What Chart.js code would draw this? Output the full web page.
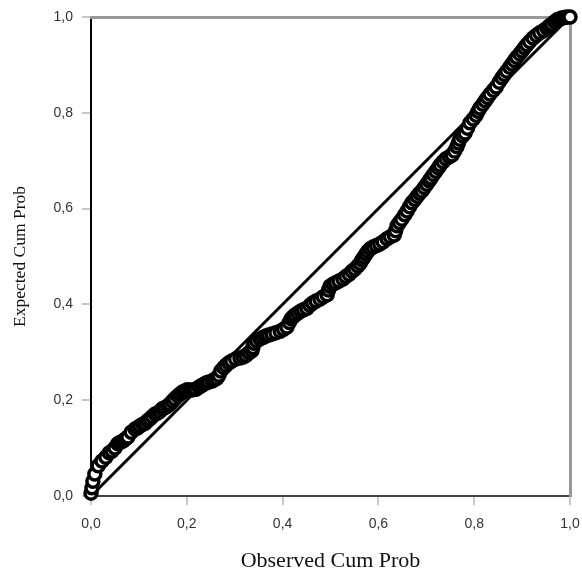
<!DOCTYPE html>
<html>
<head>
<meta charset="utf-8">
<script src="https://cdn.jsdelivr.net/npm/chart.js@4.4.1/dist/chart.umd.min.js"></script>
<style>
  html, body { margin: 0; padding: 0; background: #fff; }
  #wrap { width: 582px; height: 574px; }
</style>
</head>
<body>
<div id="wrap"><canvas id="ppChart" width="582" height="574"></canvas></div>
<script>
// observed vs expected cumulative probability
const observed = [
  0.000, 0.002, 0.004, 0.008, 0.015, 0.023, 0.031, 0.044, 0.056, 0.067,
  0.077, 0.092, 0.102, 0.113, 0.123, 0.134, 0.144, 0.154, 0.165, 0.175,
  0.186, 0.196, 0.207, 0.219, 0.230, 0.240, 0.253, 0.263, 0.271, 0.282,
  0.294, 0.311, 0.324, 0.336, 0.340, 0.353, 0.365, 0.378, 0.395, 0.409,
  0.418, 0.426, 0.438, 0.451, 0.463, 0.478, 0.493, 0.499, 0.511, 0.526,
  0.539, 0.551, 0.562, 0.570, 0.578, 0.589, 0.603, 0.618, 0.633, 0.639,
  0.649, 0.660, 0.670, 0.681, 0.691, 0.701, 0.710, 0.720, 0.729, 0.741,
  0.754, 0.764, 0.770, 0.781, 0.791, 0.804, 0.812, 0.823, 0.833, 0.846,
  0.858, 0.868, 0.879, 0.889, 0.900, 0.910, 0.923, 0.937, 0.952, 0.962,
  0.973, 0.983, 0.994
];
const expected = [
  0.006, 0.017, 0.031, 0.046, 0.063, 0.073, 0.081, 0.094, 0.109, 0.115,
  0.123, 0.140, 0.146, 0.152, 0.161, 0.171, 0.177, 0.184, 0.192, 0.203,
  0.213, 0.219, 0.221, 0.223, 0.230, 0.236, 0.240, 0.246, 0.261, 0.273,
  0.282, 0.288, 0.294, 0.303, 0.319, 0.328, 0.334, 0.338, 0.344, 0.353,
  0.370, 0.378, 0.386, 0.392, 0.403, 0.411, 0.420, 0.438, 0.445, 0.453,
  0.463, 0.474, 0.486, 0.499, 0.511, 0.520, 0.526, 0.537, 0.545, 0.564,
  0.578, 0.595, 0.612, 0.626, 0.637, 0.651, 0.664, 0.678, 0.691, 0.704,
  0.712, 0.729, 0.745, 0.758, 0.779, 0.795, 0.810, 0.825, 0.839, 0.854,
  0.873, 0.887, 0.902, 0.916, 0.929, 0.942, 0.956, 0.967, 0.977, 0.985,
  0.994, 0.998, 1.000
];
// second pass of readings, taken between the first ones along the band
const observedB = [
  0.038, 0.050, 0.061, 0.072, 0.084, 0.097, 0.108, 0.118, 0.128, 0.139,
  0.149, 0.160, 0.170, 0.181, 0.191, 0.201, 0.213, 0.225, 0.235, 0.246,
  0.258, 0.267, 0.277, 0.288, 0.302, 0.318, 0.330, 0.338, 0.346, 0.359,
  0.371, 0.386, 0.402, 0.414, 0.422, 0.432, 0.444, 0.457, 0.470, 0.485,
  0.496, 0.505, 0.518, 0.532, 0.545, 0.557, 0.566, 0.574, 0.583, 0.596,
  0.610, 0.625, 0.636, 0.644, 0.655, 0.665, 0.676, 0.686, 0.696, 0.706,
  0.715, 0.725, 0.735, 0.748, 0.759, 0.767, 0.776, 0.786, 0.798, 0.808,
  0.818, 0.828, 0.840, 0.852, 0.863, 0.874, 0.884, 0.895, 0.905, 0.916,
  0.930, 0.945, 0.957, 0.968, 0.978, 0.989, 1.000
];
const expectedB = [
  0.090, 0.100, 0.112, 0.119, 0.133, 0.142, 0.150, 0.157, 0.166, 0.173,
  0.182, 0.188, 0.198, 0.209, 0.217, 0.222, 0.222, 0.227, 0.233, 0.238,
  0.243, 0.252, 0.268, 0.278, 0.286, 0.290, 0.299, 0.310, 0.324, 0.331,
  0.336, 0.341, 0.348, 0.362, 0.374, 0.382, 0.389, 0.398, 0.407, 0.416,
  0.430, 0.442, 0.449, 0.458, 0.469, 0.480, 0.493, 0.505, 0.516, 0.523,
  0.531, 0.541, 0.554, 0.571, 0.587, 0.604, 0.619, 0.632, 0.644, 0.658,
  0.671, 0.685, 0.698, 0.708, 0.720, 0.737, 0.752, 0.768, 0.787, 0.803,
  0.818, 0.832, 0.847, 0.864, 0.880, 0.895, 0.909, 0.923, 0.936, 0.949,
  0.962, 0.972, 0.981, 0.990, 0.996, 0.999, 1.000
];
const refLine = [0, 1];
const tickValues = [0, 0.2, 0.4, 0.6, 0.8, 1.0];

const fmt = v => v.toFixed(1).replace('.', ',');

const points = observed.map((x, i) => ({ x: x, y: expected[i] }))
  .concat(observedB.map((x, i) => ({ x: x, y: expectedB[i] })))
  .sort((a, b) => a.x - b.x);

const ctx = document.getElementById('ppChart');
new Chart(ctx, {
  data: {
    datasets: [
      {
        type: 'scatter',
        label: 'Observed',
        data: points,
        pointRadius: 6,
        pointBorderWidth: 3.5,
        pointBorderColor: '#000',
        pointBackgroundColor: '#fff',
        clip: false,
        order: 1,
      },
      {
        type: 'line',
        label: 'Reference',
        data: refLine.map(v => ({ x: v, y: v })),
        borderColor: '#000',
        borderWidth: 3,
        pointRadius: 0,
        order: 2,
      },
    ]
  },
  options: {
    responsive: false,
    animation: false,
    layout: { padding: { top: 17, right: 12, left: 0, bottom: 0 } },
    plugins: { legend: { display: false }, tooltip: { enabled: false } },
    scales: {
      x: {
        type: 'linear',
        position: 'bottom',
        min: 0, max: 1,
        afterBuildTicks: s => { s.ticks = tickValues.map(v => ({ value: v })); },
        afterFit: s => { s.height = 78; s.paddingLeft = 0; s.paddingRight = 0; },
        grid: { drawOnChartArea: false, drawTicks: true, tickLength: 9, color: '#c8c8c8', lineWidth: 2 },
        border: { display: true, color: '#444', width: 2 },
        ticks: { callback: v => fmt(v), color: '#333', font: { family: 'Liberation Sans', size: 14 }, padding: 11, maxRotation: 0 },
        title: { display: true, text: 'Observed Cum Prob', color: '#111', font: { family: 'Liberation Serif', size: 22 }, padding: { top: 0, bottom: 0 } },
      },
      y: {
        type: 'linear',
        position: 'left',
        min: 0, max: 1,
        afterBuildTicks: s => { s.ticks = tickValues.map(v => ({ value: v })); },
        afterFit: s => { s.width = 91; s.paddingTop = 0; s.paddingBottom = 0; },
        grid: { drawOnChartArea: false, drawTicks: true, tickLength: 9, color: '#c8c8c8', lineWidth: 2 },
        border: { display: true, color: '#000', width: 2 },
        ticks: { callback: v => fmt(v), color: '#333', font: { family: 'Liberation Sans', size: 14 }, padding: 9 },
        title: { display: true, text: 'Expected Cum Prob', color: '#111', font: { family: 'Liberation Serif', size: 17.5 }, padding: { top: 10, bottom: 4 } },
      },
      x2: {
        type: 'linear',
        position: 'top',
        min: 0, max: 1,
        afterFit: s => { s.height = 0; s.paddingLeft = 0; s.paddingRight = 0; },
        grid: { display: false },
        border: { display: true, color: '#999', width: 3 },
        ticks: { display: false },
      },
      y2: {
        type: 'linear',
        position: 'right',
        min: 0, max: 1,
        afterFit: s => { s.width = 0; s.paddingTop = 0; s.paddingBottom = 0; },
        grid: { display: false },
        border: { display: true, color: '#999', width: 3 },
        ticks: { display: false },
      },
    }
  }
});
</script>
</body>
</html>
